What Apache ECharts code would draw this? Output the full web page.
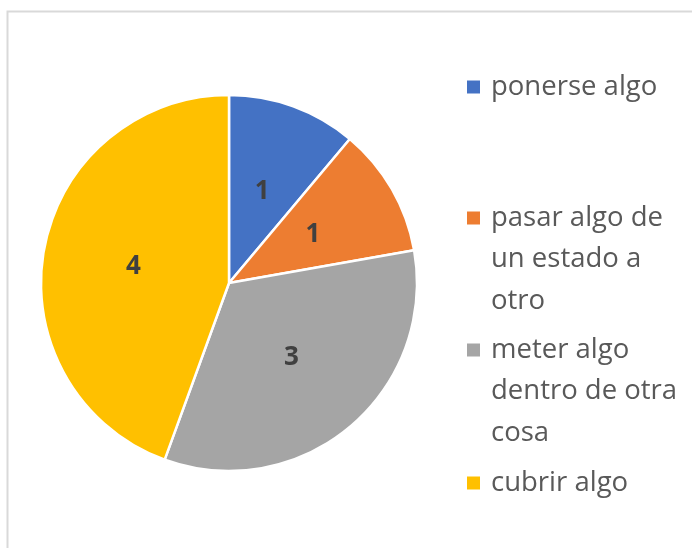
<!DOCTYPE html>
<html><head><meta charset="utf-8">
<script src="https://cdn.jsdelivr.net/npm/echarts@6/dist/echarts.min.js"></script>
<style>html,body{margin:0;padding:0;background:#fff}#c{width:692px;height:548px}</style>
</head><body><div id="c"></div>
<script>
const categories = ['ponerse algo', 'pasar algo de un estado a otro', 'meter algo dentro de otra cosa', 'cubrir algo'];
const legendLines = [['ponerse algo'], ['pasar algo de', 'un estado a', 'otro'], ['meter algo', 'dentro de otra', 'cosa'], ['cubrir algo']];
const values = [1, 1, 3, 4];
const colors = ['#4472C4', '#ED7D31', '#A5A5A5', '#FFC000'];

const chart = echarts.init(document.getElementById('c'), null, {renderer: 'canvas'});
const font = '"Open Sans", "Noto Sans", sans-serif';
const LH = 41.5;
const firstLineY = [87, 218, 350, 483];
const rich = {t: {fontFamily: font, fontSize: 27.5, color: '#595959', lineHeight: LH, padding: [0, 0, 0, 11]}, s: {width: 13, height: 13}};
colors.forEach((c, i) => { rich['m' + i] = {width: 13, height: 13, backgroundColor: c}; });

chart.setOption({
  animation: false,
  graphic: [{
    type: 'rect', shape: {x: 7.5, y: 11.5, width: 720, height: 580},
    style: {fill: null, stroke: '#d9d9d9', lineWidth: 2}, silent: true
  }],
  legend: categories.map((n, i) => ({
    orient: 'vertical', left: 466 - 18, top: firstLineY[i] - LH / 2, padding: 0,
    itemWidth: 13, itemHeight: 13, itemStyle: {opacity: 0}, icon: 'rect', selectedMode: false,
    data: [n],
    formatter: name => legendLines[i].map((l, k) => (k === 0 ? '{m' + i + '|}' : '{s|}') + '{t|' + l + '}').join('\n'),
    textStyle: {fontFamily: font, fontSize: 27.5, color: '#595959', lineHeight: LH, rich: rich}
  })),
  series: [{
    type: 'pie', center: [229, 283], radius: [0, 188], startAngle: 90, clockwise: true,
    avoidLabelOverlap: false,
    itemStyle: {borderColor: '#fff', borderWidth: 2.5},
    label: {show: true, position: 'inside', formatter: '{c}', fontFamily: font, fontWeight: 'bold', fontSize: 26, color: '#404040'},
    labelLine: {show: false},
    emphasis: {disabled: true},
    data: categories.map((n, i) => ({name: n, value: values[i], itemStyle: {color: colors[i]}}))
  }]
});
</script></body></html>
